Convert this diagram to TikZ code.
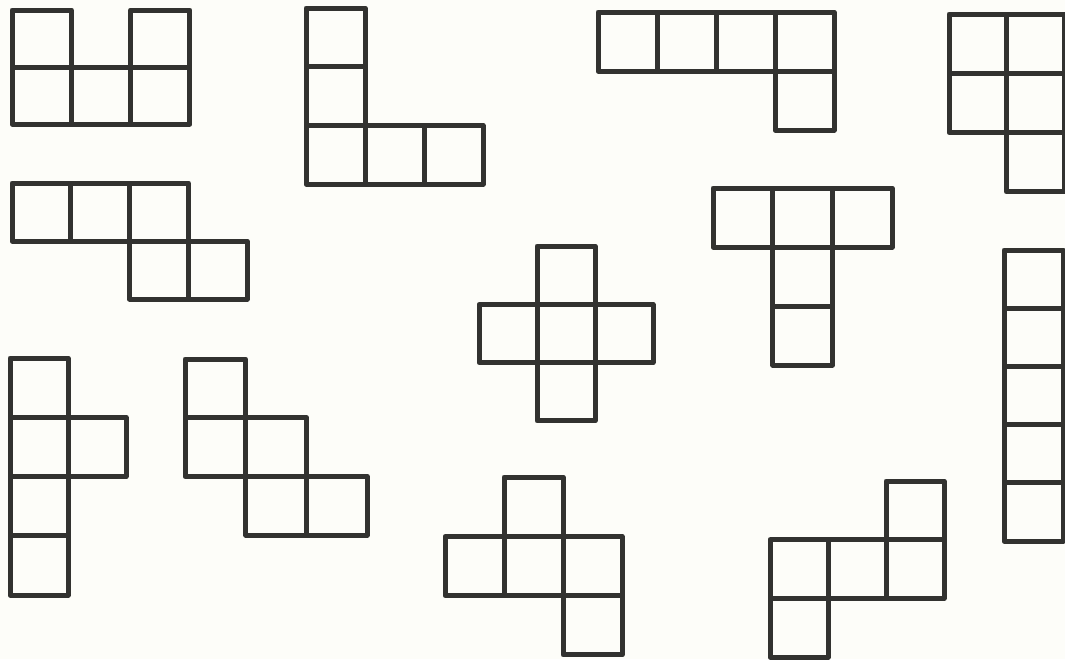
\documentclass[tikz,border=0pt]{standalone}
\usetikzlibrary{calc}

\definecolor{ink}{RGB}{50,50,48}
\definecolor{paper}{RGB}{253,253,249}

\tikzset{
  cellline/.style={draw=ink, line width=5pt, line join=round, line cap=round}
}

% one piece: origin x, origin y, cell width, cell height, list of col/row
\newcommand{\drawpiece}[5]{%
  \begin{scope}[shift={(#1,-#2)}]
    \foreach \c/\r in {#5} {
      \draw[cellline] (\c*#3,-\r*#4) rectangle ++(#3,-#4);
    }
  \end{scope}}

\begin{document}
\begin{tikzpicture}[x=1pt,y=1pt]
  % page
  \fill[paper] (0,0) rectangle (1065,-659);
  \useasboundingbox (0,0) rectangle (1065,-659);

  % === top row ===
  \drawpiece{12}{10}{59.3}{57}{0/0,2/0,0/1,1/1,2/1}         % U
  \drawpiece{306}{8}{59}{58.7}{0/0,0/1,0/2,1/2,2/2}         % V
  \drawpiece{598}{12}{59}{59}{0/0,1/0,2/0,3/0,3/1}          % L
  \drawpiece{949}{14}{57.5}{59.3}{0/0,1/0,0/1,1/1,1/2}      % P

  % === middle ===
  \drawpiece{12}{183}{58.75}{58}{0/0,1/0,2/0,2/1,3/1}       % N
  \drawpiece{713}{188}{59.7}{59}{0/0,1/0,2/0,1/1,1/2}       % T
  \drawpiece{479}{246}{58}{58.3}{1/0,0/1,1/1,2/1,1/2}       % X
  \drawpiece{1004}{250}{59}{58.2}{0/0,0/1,0/2,0/3,0/4}      % I

  % === bottom row ===
  \drawpiece{10}{358}{58}{59.25}{0/0,0/1,1/1,0/2,0/3}       % Y
  \drawpiece{185}{359}{60.7}{58.7}{0/0,0/1,1/1,1/2,2/2}     % W
  \drawpiece{445}{477}{59}{59.3}{1/0,0/1,1/1,2/1,2/2}       % F
  \drawpiece{770}{481}{58}{58.7}{2/0,0/1,1/1,2/1,0/2}       % Z
\end{tikzpicture}
\end{document}
